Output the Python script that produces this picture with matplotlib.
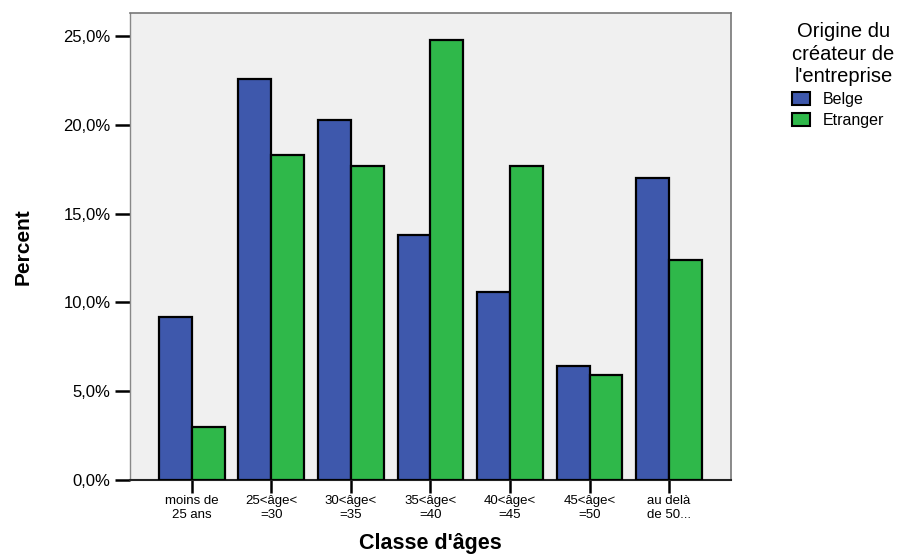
import matplotlib.pyplot as plt
import numpy as np

# Data (percent)
categories = ['moins de\n25 ans', '25<âge<\n=30', '30<âge<\n=35', '35<âge<\n=40',
              '40<âge<\n=45', '45<âge<\n=50', 'au delà\nde 50...']
belge = [9.2, 22.6, 20.3, 13.8, 10.6, 6.4, 17.0]
etranger = [3.0, 18.3, 17.7, 24.8, 17.7, 5.9, 12.4]
series_names = ['Belge', 'Etranger']
yticks = [0, 5, 10, 15, 20, 25]
ytick_labels = ['0,0%', '5,0%', '10,0%', '15,0%', '20,0%', '25,0%']

plt.rcParams['font.family'] = ['Liberation Sans', 'DejaVu Sans']

fig = plt.figure(figsize=(9.14, 5.54), dpi=100)
ax = fig.add_axes([0.1422, 0.1336, 0.6576, 0.8429])
ax.set_facecolor('#f0f0f0')

x = np.arange(len(categories))
w = 0.415
ax.bar(x - w / 2, belge, w, color='#3e58ac', edgecolor='black', linewidth=1.6,
       label=series_names[0], zorder=3)
ax.bar(x + w / 2, etranger, w, color='#2fb84a', edgecolor='black', linewidth=1.6,
       label=series_names[1], zorder=3)

ax.set_xlim(-0.78, 6.78)
ax.set_ylim(0, 26.3)
ax.set_yticks(yticks)
ax.set_yticklabels(ytick_labels, fontsize=12)
ax.set_xticks(x)
ax.set_xticklabels(categories, fontsize=9.5, linespacing=1.15)
ax.tick_params(axis='y', length=11, width=1.8, color='black', pad=3)
ax.tick_params(axis='x', length=9, width=1.8, color='black', pad=2)

for side in ['top', 'right']:
    ax.spines[side].set_color('#777777')
    ax.spines[side].set_linewidth(1.2)
ax.spines['left'].set_color('#888888')
ax.spines['bottom'].set_color('#222222')
ax.spines['left'].set_linewidth(1.0)
ax.spines['bottom'].set_linewidth(1.5)

ax.set_ylabel('Percent', fontsize=15, fontweight='bold', fontstretch='condensed', labelpad=22)
ax.set_xlabel("Classe d'âges", fontsize=15.5, fontweight='bold', labelpad=9)

leg = fig.legend(loc='upper left', bbox_to_anchor=(0.858, 0.975),
                 title="Origine du\ncréateur de\nl'entreprise", title_fontsize=14.5,
                 fontsize=11.5, frameon=False, handlelength=1.1, handleheight=0.9,
                 handletextpad=0.8, labelspacing=0.35, borderpad=0.0)
leg._legend_box.align = 'left'
leg._legend_box.sep = 4
leg.get_title().set_multialignment('center')
leg.get_title().set_linespacing(1.25)
for h in leg.legend_handles:
    h.set_linewidth(1.5)

fig.savefig('out.png', dpi=100)
